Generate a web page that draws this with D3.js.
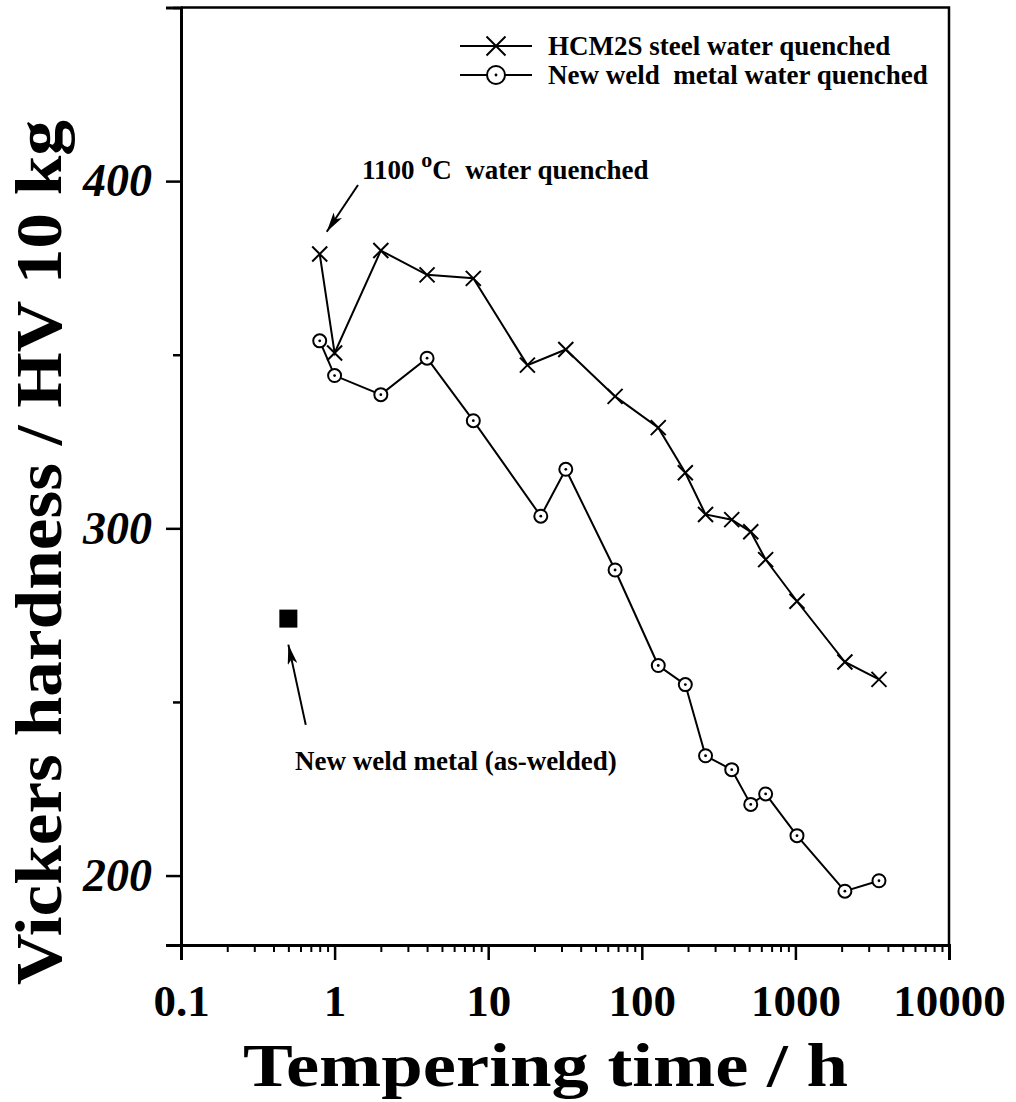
<!DOCTYPE html>
<html>
<head>
<meta charset="utf-8">
<script src="https://cdn.jsdelivr.net/npm/d3@7"></script>
<style>
  html, body { margin: 0; padding: 0; background: #fff; }
  svg text { font-family: "Liberation Serif", "Times New Roman", serif; font-weight: bold; fill: #000; }
</style>
</head>
<body>
<svg id="chart" width="1016" height="1102"></svg>
<script>
// Tempering curves: hardness vs tempering time (h)
const steelTime = [0.8, 1, 2, 4, 8, 18, 32, 67, 128, 192, 260, 385, 512, 640, 1024, 2100, 3500];
const steelHV   = [379, 350.5, 380, 373, 372, 347, 351.5, 338, 329, 316, 304, 302.5, 299, 291, 279, 261.5, 256.5];

const weldTime = [0.8, 1, 2, 4, 8, 22, 32, 67, 128, 192, 260, 385, 512, 640, 1024, 2100, 3500];
const weldHV   = [354, 344, 338.5, 349, 331, 303.5, 317, 288, 260.5, 255, 234.5, 230.5, 220.5, 223.5, 211.5, 195.5, 198.5];

// as-welded reference point
const asWeldedTime = [0.5];
const asWeldedHV   = [274];

const xTickValues = [0.1, 1, 10, 100, 1000, 10000];
const yMajorTicks = [200, 300, 400];
const yMinorTicks = [250, 350, 450];

const legendLabels = ["HCM2S steel water quenched", "New weld  metal water quenched"];

const svg = d3.select('#chart');
const plotL = 181, plotR = 949, plotT = 7.5, plotB = 945;

const x = d3.scaleLog().domain([0.1, 10000]).range([plotL, plotR]);
const y = d3.scaleLinear().domain([180, 450]).range([plotB, plotT]);

// arrowhead
svg.append('defs').append('marker')
    .attr('id', 'head')
    .attr('viewBox', '0 0 20 10')
    .attr('refX', 20).attr('refY', 5)
    .attr('markerUnits', 'userSpaceOnUse')
    .attr('markerWidth', 20).attr('markerHeight', 10)
    .attr('orient', 'auto')
  .append('path')
    .attr('d', 'M0,0 L20,5 L0,10 L5,5 Z')
    .attr('fill', '#000');

// x axis, major + minor ticks pointing down
const minorX = [];
for (let e = -1; e < 4; e++) for (let m = 2; m <= 9; m++) minorX.push(m * Math.pow(10, e));

svg.append('g')
    .attr('transform', `translate(0,${plotB})`)
    .call(d3.axisBottom(x).tickValues(minorX).tickSize(7).tickFormat(''))
    .call(g => g.select('.domain').remove())
    .selectAll('line').attr('stroke-width', 2);

const xAxis = svg.append('g')
    .attr('transform', `translate(0,${plotB})`)
    .call(d3.axisBottom(x).tickValues(xTickValues).tickSize(15).tickPadding(24)
      .tickFormat(d => d < 1 ? '0.1' : d3.format('d')(d)));
xAxis.select('.domain').attr('stroke-width', 3);
xAxis.selectAll('line').attr('stroke-width', 2.5);
xAxis.selectAll('text')
    .style('font-size', '45px')
    .attr('fill', '#000');

// y axis
svg.append('g')
    .attr('transform', `translate(${plotL},0)`)
    .call(d3.axisLeft(y).tickValues(yMinorTicks).tickSize(8).tickFormat(''))
    .call(g => g.select('.domain').remove())
    .selectAll('line').attr('stroke-width', 2.5);

const yAxis = svg.append('g')
    .attr('transform', `translate(${plotL},0)`)
    .call(d3.axisLeft(y).tickValues(yMajorTicks).tickSize(15).tickPadding(14));
yAxis.select('.domain').attr('stroke-width', 3);
yAxis.selectAll('line').attr('stroke-width', 2.5);
yAxis.selectAll('text')
    .style('font-size', '46px')
    .style('font-style', 'italic')
    .attr('fill', '#000');

// top and right frame
svg.append('path')
    .attr('d', `M${plotL},${plotT}H${plotR}V${plotB}`)
    .attr('fill', 'none').attr('stroke', '#000').attr('stroke-width', 2.5);

// axis titles (stretched wide)
svg.append('text')
    .attr('x', 243).attr('y', 1086)
    .attr('textLength', 605)
    .attr('lengthAdjust', 'spacingAndGlyphs')
    .style('font-size', '62px')
    .text('Tempering time / h');

svg.append('text')
    .attr('transform', `translate(61,985) rotate(-90)`)
    .attr('textLength', 865)
    .attr('lengthAdjust', 'spacingAndGlyphs')
    .style('font-size', '66px')
    .text('Vickers hardness / HV 10 kg');

// series
const line = d3.line().x(d => x(d[0])).y(d => y(d[1]));
const steel = steelTime.map((t, i) => [t, steelHV[i]]);
const weld = weldTime.map((t, i) => [t, weldHV[i]]);

svg.append('path').datum(steel).attr('d', line)
    .attr('fill', 'none').attr('stroke', '#000').attr('stroke-width', 2);
svg.append('path').datum(weld).attr('d', line)
    .attr('fill', 'none').attr('stroke', '#000').attr('stroke-width', 2);

function cross(g, cx, cy, s) {
  g.append('path')
    .attr('d', `M${cx - s},${cy - s}L${cx + s},${cy + s}M${cx - s},${cy + s}L${cx + s},${cy - s}`)
    .attr('stroke', '#000').attr('stroke-width', 2).attr('fill', 'none');
}
function ring(g, cx, cy, r) {
  g.append('circle').attr('cx', cx).attr('cy', cy).attr('r', r)
    .attr('fill', '#fff').attr('stroke', '#000').attr('stroke-width', 2);
  g.append('circle').attr('cx', cx).attr('cy', cy).attr('r', 1.4).attr('fill', '#000');
}

const marks = svg.append('g');
steel.forEach(d => cross(marks, x(d[0]), y(d[1]), 7.5));
weld.forEach(d => ring(marks, x(d[0]), y(d[1]), 6.5));

svg.selectAll('rect.asw')
  .data(asWeldedTime.map((t, i) => [t, asWeldedHV[i]]))
  .join('rect')
    .attr('class', 'asw')
    .attr('x', d => x(d[0]) - 9).attr('y', d => y(d[1]) - 9)
    .attr('width', 18).attr('height', 18)
    .attr('fill', '#000');

// legend
const legend = svg.append('g');
legendLabels.forEach((label, i) => {
  const ly = 46 + i * 29;
  legend.append('line')
    .attr('x1', 460).attr('x2', 532).attr('y1', ly).attr('y2', ly)
    .attr('stroke', '#000').attr('stroke-width', 2);
  if (i === 0) cross(legend, 496, ly, 9.5);
  else ring(legend, 496, ly, 9);
  legend.append('text')
    .attr('x', 548).attr('y', ly + 9)
    .style('font-size', '27px')
    .style('white-space', 'pre')
    .text(label);
});

// annotations
const notes = [
  { tail: [1.42, 398.9], tip: [0.889, 385.4] },
  { tail: [0.649, 243.4], tip: [0.5, 266.5] }
];
notes.forEach(n => {
  svg.append('line')
    .attr('x1', x(n.tail[0])).attr('y1', y(n.tail[1]))
    .attr('x2', x(n.tip[0])).attr('y2', y(n.tip[1]))
    .attr('stroke', '#000').attr('stroke-width', 2)
    .attr('marker-end', 'url(#head)');
});

const q = svg.append('text')
    .attr('x', x(1.51)).attr('y', y(400.6))
    .style('font-size', '27px')
    .style('white-space', 'pre');
q.append('tspan').text('1100 ');
q.append('tspan').attr('dy', -12).style('font-size', '22px').text('o');
q.append('tspan').attr('dy', 12).text('C  water quenched');

svg.append('text')
    .attr('x', x(0.552)).attr('y', y(230.5))
    .style('font-size', '27px')
    .text('New weld metal (as-welded)');
</script>
</body>
</html>
